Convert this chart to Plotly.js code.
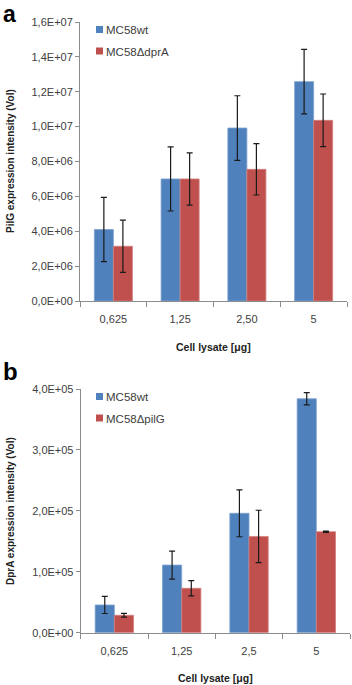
<!DOCTYPE html>
<html>
<head>
<meta charset="utf-8">
<script src="https://cdn.plot.ly/plotly-3.0.1.min.js"></script>
<style>html,body{margin:0;padding:0;background:#fff;}#chart{width:352px;height:685px;}</style>
</head>
<body>
<div id="chart"></div>
<script>
// Panel a data
var catsA = ["0,625", "1,25", "2,50", "5"];
var wtA = [4.1e6, 7.0e6, 9.92e6, 12.58e6];
var wtAerr = [1.84e6, 1.84e6, 1.85e6, 1.85e6];
var dprA = [3.14e6, 7.0e6, 7.55e6, 10.36e6];
var dprAerr = [1.5e6, 1.5e6, 1.47e6, 1.51e6];
var ticksA = [0, 2e6, 4e6, 6e6, 8e6, 10e6, 12e6, 14e6, 16e6];
var tickTextA = ["0,0E+00", "2,0E+06", "4,0E+06", "6,0E+06", "8,0E+06", "1,0E+07", "1,2E+07", "1,4E+07", "1,6E+07"];

// Panel b data
var catsB = ["0,625", "1,25", "2,5", "5"];
var wtB = [45500, 111000, 196000, 384000];
var wtBerr = [14000, 23000, 38500, 10000];
var pilG = [28600, 72900, 158000, 165800];
var pilGerr = [3000, 12500, 43000, 1000];
var ticksB = [0, 1e5, 2e5, 3e5, 4e5];
var tickTextB = ["0,0E+00", "1,0E+05", "2,0E+05", "3,0E+05", "4,0E+05"];

var blue = "#4F81BD", red = "#C0504D";
var errStyle = {type: "data", visible: true, color: "#1a1a1a", thickness: 1.2, width: 3};

function eb(arr) { return Object.assign({array: arr}, errStyle); }

var traces = [
  {type: "bar", x: catsA, y: wtA, name: "MC58wt", xaxis: "x", yaxis: "y", legend: "legend", legendgroup: "a1",
   marker: {color: blue, line: {color: "#7ea2cf", width: 0.8}}, error_y: eb(wtAerr)},
  {type: "bar", x: catsA, y: dprA, name: "MC58\u0394dprA", xaxis: "x", yaxis: "y", legend: "legend", legendgroup: "a2",
   marker: {color: red, line: {color: "#d27f7d", width: 0.8}}, error_y: eb(dprAerr)},
  {type: "bar", x: catsB, y: wtB, name: "MC58wt", xaxis: "x2", yaxis: "y2", legend: "legend2", legendgroup: "b1",
   marker: {color: blue, line: {color: "#7ea2cf", width: 0.8}}, error_y: eb(wtBerr)},
  {type: "bar", x: catsB, y: pilG, name: "MC58\u0394pilG", xaxis: "x2", yaxis: "y2", legend: "legend2", legendgroup: "b2",
   marker: {color: red, line: {color: "#d27f7d", width: 0.8}}, error_y: eb(pilGerr)}
];

var H = 685, W = 352;
function py(p) { return 1 - p / H; }
function px(p) { return p / W; }

var tickFont = {family: "Liberation Sans, Arial, sans-serif", size: 11, color: "#404040"};
var axisCommon = {showgrid: false, zeroline: false, showline: true, linecolor: "#8c8c8c", linewidth: 1,
  ticks: "outside", tickcolor: "#8c8c8c", ticklen: 4, tickfont: tickFont, fixedrange: true};
var legFont = {family: "Liberation Sans, Arial, sans-serif", size: 11.5, color: "#404040"};

var layout = {
  width: W, height: H,
  margin: {l: 0, r: 0, t: 0, b: 0},
  paper_bgcolor: "#fff", plot_bgcolor: "#fff",
  barmode: "group", bargap: 0.43, bargroupgap: 0,
  showlegend: true,
  xaxis: Object.assign({}, axisCommon, {type: "category", anchor: "y", domain: [px(80), px(347)], tickson: "boundaries", ticklen: 5, ticklabelstandoff: 8}),
  yaxis: Object.assign({}, axisCommon, {anchor: "x", domain: [py(301), py(22)], range: [0, 1.6e7], tickmode: "array", tickvals: ticksA, ticktext: tickTextA}),
  xaxis2: Object.assign({}, axisCommon, {type: "category", anchor: "y2", domain: [px(80.7), px(350)], tickson: "boundaries", ticklen: 5, ticklabelstandoff: 8}),
  yaxis2: Object.assign({}, axisCommon, {anchor: "x2", domain: [py(632.7), py(389)], range: [0, 4e5], tickmode: "array", tickvals: ticksB, ticktext: tickTextB}),
  legend: {x: px(66), y: py(15), xanchor: "left", yanchor: "top", bgcolor: "rgba(0,0,0,0)",
    font: legFont, itemwidth: 30, tracegroupgap: 2.5, traceorder: "grouped"},
  legend2: {x: px(66), y: py(382), xanchor: "left", yanchor: "top", bgcolor: "rgba(0,0,0,0)",
    font: legFont, itemwidth: 30, tracegroupgap: 2.5, traceorder: "grouped"},
  annotations: [
    {text: "<b>a</b>", xref: "paper", yref: "paper", x: px(1), y: py(-1), xanchor: "left", yanchor: "top", showarrow: false,
     font: {family: "Liberation Sans, Arial, sans-serif", size: 23, color: "#000"}},
    {text: "<b>b</b>", xref: "paper", yref: "paper", x: px(1), y: py(356), xanchor: "left", yanchor: "top", showarrow: false,
     font: {family: "Liberation Sans, Arial, sans-serif", size: 24, color: "#000"}},
    {text: "<b>PilG expression intensity (Vol)</b>", xref: "paper", yref: "paper", x: px(10), y: py(161), xanchor: "center", yanchor: "middle",
     textangle: -90, showarrow: false, font: {family: "Liberation Sans, Arial, sans-serif", size: 10, color: "#222"}},
    {text: "<b>DprA expression intensity (Vol)</b>", xref: "paper", yref: "paper", x: px(10), y: py(511), xanchor: "center", yanchor: "middle",
     textangle: -90, showarrow: false, font: {family: "Liberation Sans, Arial, sans-serif", size: 10, color: "#222"}},
    {text: "<b>Cell lysate [\u03bcg]</b>", xref: "paper", yref: "paper", x: px(213), y: py(347), xanchor: "center", yanchor: "middle",
     showarrow: false, font: {family: "Liberation Sans, Arial, sans-serif", size: 10.5, color: "#222"}},
    {text: "<b>Cell lysate [\u03bcg]</b>", xref: "paper", yref: "paper", x: px(215), y: py(678), xanchor: "center", yanchor: "middle",
     showarrow: false, font: {family: "Liberation Sans, Arial, sans-serif", size: 10.5, color: "#222"}}
  ]
};

Plotly.newPlot("chart", traces, layout, {displayModeBar: false, staticPlot: true}).then(function () {
  // smaller legend swatches placed close to the text, as in the original
  document.querySelectorAll(".legendpoints path").forEach(function (p) {
    p.setAttribute("d", "M17,3.5H10V-3.5H17Z");
    p.style.strokeWidth = "0px";
  });
});
</script>
</body>
</html>
